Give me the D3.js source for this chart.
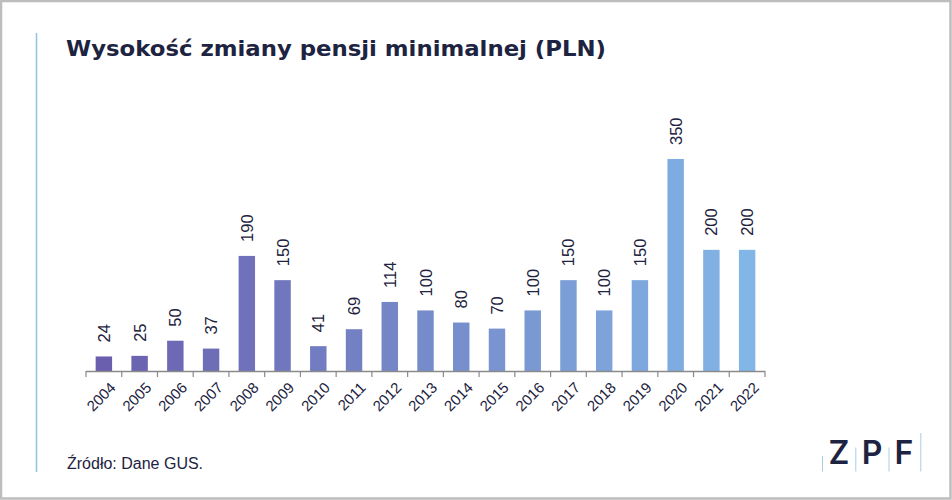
<!DOCTYPE html>
<html><head><meta charset="utf-8">
<script src="https://cdn.jsdelivr.net/npm/d3@7"></script>
<style>
html,body{margin:0;padding:0;background:#fff;}
svg{display:block;}
</style></head>
<body>
<svg id="chart" width="952" height="500"></svg>
<script>
const years = ["2004","2005","2006","2007","2008","2009","2010","2011","2012","2013","2014","2015","2016","2017","2018","2019","2020","2021","2022"];
const values = [24,25,50,37,190,150,41,69,114,100,80,70,100,150,100,150,350,200,200];
const title = "Wysokość zmiany pensji minimalnej (PLN)";
const source = "Źródło: Dane GUS.";

const svg = d3.select("#chart");
const W = 952, H = 500;

// frame
svg.append("rect").attr("x",1).attr("y",1).attr("width",W-2.5).attr("height",H-2.5)
  .attr("fill","#fff").attr("stroke","#bdbdbd").attr("stroke-width",2.5);
// left accent line
svg.append("line").attr("x1",36.5).attr("x2",36.5).attr("y1",33).attr("y2",472)
  .attr("stroke","#8ec3e6").attr("stroke-width",1.5);

svg.append("text").attr("x",66).attr("y",56).text(title)
  .attr("font-family","'DejaVu Sans', sans-serif").attr("font-weight",700)
  .attr("font-size",21).attr("textLength",540).attr("lengthAdjust","spacingAndGlyphs")
  .attr("fill","#1d2340");

const x = d3.scaleBand().domain(years).range([86,765]).paddingInner(0.54).paddingOuter(0.27);
const y = d3.scaleLinear().domain([0,350]).range([371,159]);
const color = d3.scaleLinear().domain([0, years.length-1]).range(["#6a5fae","#82b6e6"]).interpolate(d3.interpolateRgb);

svg.append("g").selectAll("rect").data(values).join("rect")
  .attr("x",(d,i)=>x(years[i])).attr("width",x.bandwidth())
  .attr("y",d=>y(d)).attr("height",d=>y(0)-y(d))
  .attr("fill",(d,i)=>color(i));

// value labels
svg.append("g").selectAll("text").data(values).join("text")
  .attr("transform",(d,i)=>`translate(${x(years[i])+x.bandwidth()/2+6},${y(d)-14}) rotate(-90)`)
  .attr("font-family","'Liberation Sans', Arial, sans-serif").attr("font-size",16.5)
  .attr("fill","#1d2340").text(d=>d);

// axis
const band = d3.scaleBand().domain(years).range([86,765]);
const ax = svg.append("g");
ax.append("line").attr("x1",86).attr("x2",765).attr("y1",371.5).attr("y2",371.5)
  .attr("stroke","#8a8a8a").attr("stroke-width",1.5);
const edges = years.map(d=>band(d)).concat([765]);
ax.selectAll("line.tick").data(edges).join("line").attr("class","tick")
  .attr("x1",d=>d).attr("x2",d=>d).attr("y1",371).attr("y2",377)
  .attr("stroke","#8a8a8a").attr("stroke-width",1.2);
ax.selectAll("text").data(years).join("text")
  .attr("transform",d=>`translate(${band(d)+band.bandwidth()/2+9},${385}) rotate(-45)`)
  .attr("text-anchor","end").attr("dy","0.35em")
  .attr("font-family","'Liberation Sans', Arial, sans-serif").attr("font-size",15)
  .attr("fill","#1d2340").text(d=>d);

// source
svg.append("text").attr("x",67).attr("y",469).text(source)
  .attr("font-family","'Liberation Sans', Arial, sans-serif").attr("font-size",16)
  .attr("fill","#1d2340");

// logo
const logo = svg.append("g");
[["Z",839],["P",872],["F",904]].forEach(([t,cx])=>{
  logo.append("text").attr("x",cx).attr("y",464).attr("text-anchor","middle")
    .attr("font-family","Inter, 'Open Sans', sans-serif").attr("font-weight",600)
    .attr("font-size",32).attr("fill","#1d2340").text(t);
});
[[822.5,456],[855.8,447.5],[889,447.5],[920.8,433]].forEach(([lx,y1])=>{
  logo.append("line").attr("x1",lx).attr("x2",lx).attr("y1",y1).attr("y2",471.5)
    .attr("stroke","#a9cde8").attr("stroke-width",1);
});
</script>
</body></html>
